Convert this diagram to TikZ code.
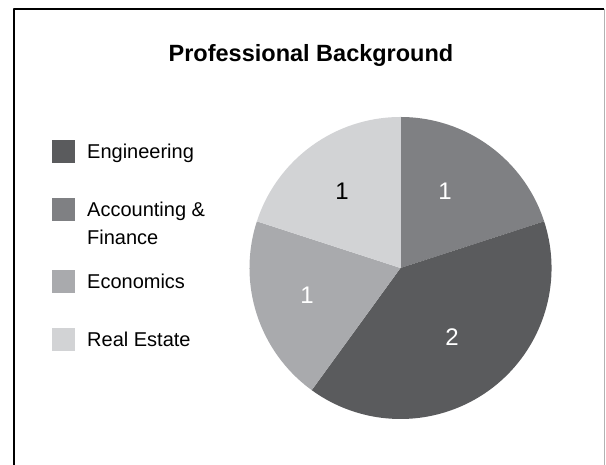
\documentclass[tikz,border=0pt]{standalone}
\usepackage{fontspec}
\setmainfont{Liberation Sans}
\usepackage{tikz}
\definecolor{eng}{HTML}{5A5B5D}
\definecolor{acct}{HTML}{7F8083}
\definecolor{econ}{HTML}{A9AAAD}
\definecolor{rest}{HTML}{D2D3D5}
\begin{document}
\begin{tikzpicture}[x=1pt,y=1pt,join=round,
        legbox/.style={fill=#1,minimum size=23pt,inner sep=0pt},
        legtext/.style={anchor=base west,inner sep=0pt,align=left,font=\fontsize{20}{28}\selectfont},
        pienum/.style={inner sep=0pt,font=\fontsize{24}{24}\selectfont}] %Pie chart with 4 slices
        \useasboundingbox (0,0) rectangle (606,465);
        \draw[line width=2pt](14,0)--(14,456)--(604,456);
        \draw[black!30,line width=1pt](604.5,0)--(604.5,456);
        \node[font=\bfseries\fontsize{23.5}{23.5}\selectfont,anchor=base] (title) at (311,403) {Professional Background};
        \coordinate (c) at (400.5,197);
        \fill[acct](c)--++(90:151) arc[start angle=90,end angle=18,radius=151]--cycle;
        \fill[eng](c)--++(18:151) arc[start angle=18,end angle=-126,radius=151]--cycle;
        \fill[econ](c)--++(-126:151) arc[start angle=-126,end angle=-198,radius=151]--cycle;
        \fill[rest](c)--++(162:151) arc[start angle=162,end angle=90,radius=151]--cycle;
        \node[pienum,white] (nacct) at (445,273.5) {1};
        \node[pienum,white] (neng) at (452,128) {2};
        \node[pienum,white] (necon) at (307,170) {1};
        \node[pienum,black] (nrest) at (342,273.5) {1};
        \node[legbox=eng] (beng) at (63.5,313.5) {};
        \node[legbox=acct] (bacct) at (63.5,255.5) {};
        \node[legbox=econ] (becon) at (63.5,183.5) {};
        \node[legbox=rest] (brest) at (63.5,125.5) {};
        \node[legtext] (teng) at (87,306) {Engineering};
        \node[legtext] (tacct) at (87,220) {Accounting \&\\Finance};
        \node[legtext] (tecon) at (87,176) {Economics};
        \node[legtext] (trest) at (87,118) {Real Estate};
    \end{tikzpicture}
\end{document}
